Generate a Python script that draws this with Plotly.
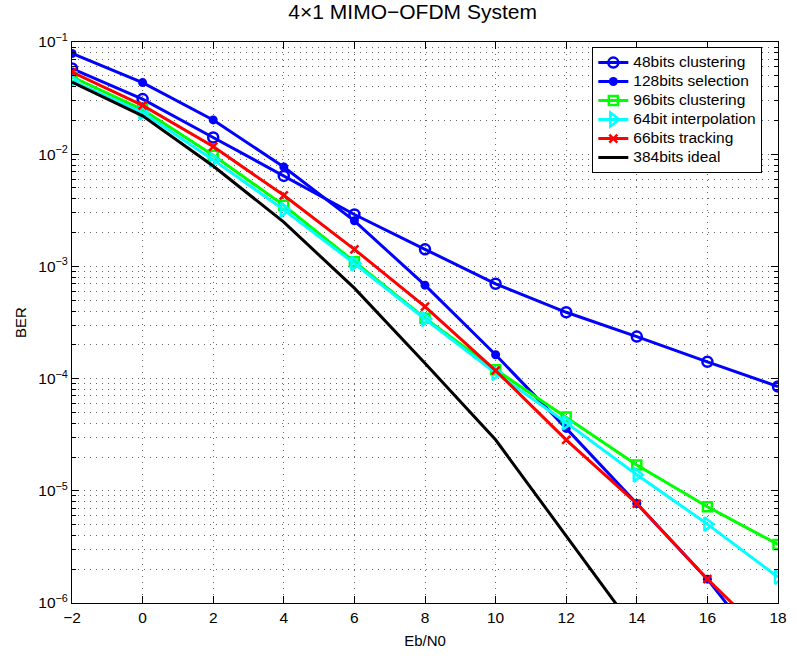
import plotly.graph_objects as go

# Eb/N0 sweep (dB)
ebn0 = [-2, 0, 2, 4, 6, 8, 10, 12, 14, 16, 18]
ebn0_ideal = [-2, 0, 2, 4, 6, 8, 10, 12, 14]

# BER curves
ber_48_clustering = [5.8e-2, 3.1e-2, 1.41e-2, 6.4e-3, 2.9e-3, 1.42e-3, 7.0e-4, 3.9e-4, 2.37e-4, 1.41e-4, 8.5e-5]
ber_128_selection = [7.9e-2, 4.35e-2, 2.02e-2, 7.7e-3, 2.55e-3, 6.8e-4, 1.63e-4, 3.6e-5, 7.7e-6, 1.63e-6, 2.6e-7]
ber_96_clustering = [4.9e-2, 2.5e-2, 9.8e-3, 3.5e-3, 1.1e-3, 3.45e-4, 1.2e-4, 4.55e-5, 1.7e-5, 7.2e-6, 3.33e-6]
ber_64_interp = [4.5e-2, 2.35e-2, 8.9e-3, 3.2e-3, 1.06e-3, 3.4e-4, 1.12e-4, 4.05e-5, 1.39e-5, 5.05e-6, 1.7e-6]
ber_66_tracking = [5.4e-2, 2.72e-2, 1.17e-2, 4.3e-3, 1.42e-3, 4.38e-4, 1.18e-4, 2.84e-5, 7.7e-6, 1.63e-6, 4.0e-7]
ber_384_ideal = [4.4e-2, 2.2e-2, 7.85e-3, 2.48e-3, 6.4e-4, 1.37e-4, 2.85e-5, 3.9e-6, 5.5e-7]

# Axis ticks
x_ticks = [-2, 0, 2, 4, 6, 8, 10, 12, 14, 16, 18]
x_tick_text = ["\u22122", "0", "2", "4", "6", "8", "10", "12", "14", "16", "18"]
decades = [-6, -5, -4, -3, -2, -1]

y_major = [10.0 ** d for d in decades]
y_major_text = ["10<sup>\u2212%d</sup>" % (-d) for d in decades]
y_minor = [m * 10.0 ** d for d in decades[:-1] for m in range(2, 10)]

FONT = "Liberation Sans, Arial, Helvetica, sans-serif"
LW = 3
GRID = dict(gridcolor="#666666", griddash="1px,5px", gridwidth=1)

series = [
    ("48bits clustering", ebn0, ber_48_clustering, "#0000FF",
     dict(symbol="circle-open", size=10, line=dict(width=2.5, color="#0000FF"))),
    ("128bits selection", ebn0, ber_128_selection, "#0000FF",
     dict(symbol="circle", size=9, color="#0000FF")),
    ("96bits clustering", ebn0, ber_96_clustering, "#00FF00",
     dict(symbol="square-open", size=9, line=dict(width=2.5, color="#00FF00"))),
    ("64bit interpolation", ebn0, ber_64_interp, "#00FFFF",
     dict(symbol="triangle-right-open", size=12, line=dict(width=2.5, color="#00FFFF"))),
    ("66bits tracking", ebn0, ber_66_tracking, "#FF0000",
     dict(symbol="x-thin-open", size=8, line=dict(width=2.5, color="#FF0000"))),
]


def legend_label(text):
    return '<span style="font-size:15.5px">%s</span>' % text


fig = go.Figure()
for name, xs, ys, color, marker in series:
    fig.add_trace(go.Scatter(
        x=xs, y=ys, name=legend_label(name), mode="lines+markers",
        line=dict(color=color, width=LW), marker=marker,
    ))
fig.add_trace(go.Scatter(
    x=ebn0_ideal, y=ber_384_ideal, name=legend_label("384bits ideal"),
    mode="lines", line=dict(color="#000000", width=LW),
))

fig.update_layout(
    width=797, height=659,
    margin=dict(l=72, r=10, t=42, b=56),
    paper_bgcolor="white", plot_bgcolor="white",
    font=dict(family=FONT, size=15, color="black"),
    title=dict(text="4\u00d71 MIMO\u2212OFDM System", x=0.4825, xref="paper",
               xanchor="center", y=0.983, yanchor="middle",
               font=dict(size=21, family=FONT)),
    legend=dict(x=0.737, y=0.991, xanchor="left", yanchor="top",
                bgcolor="white", bordercolor="black", borderwidth=1,
                font=dict(size=12, family=FONT), tracegroupgap=0),
    showlegend=True,
)

fig.update_xaxes(
    range=[-2, 18], tickvals=x_ticks, ticktext=x_tick_text,
    ticks="inside", ticklen=7, tickcolor="black",
    showline=True, linecolor="black", linewidth=1, mirror="ticks",
    showgrid=True, zeroline=False, **GRID,
    title=dict(text="Eb/N0", font=dict(size=15), standoff=10),
    tickfont=dict(size=15.5),
)
fig.update_yaxes(
    type="log", range=[-6, -1], tickvals=y_major, ticktext=y_major_text,
    ticks="inside", ticklen=7, tickcolor="black",
    minor=dict(tickvals=y_minor, ticks="inside", ticklen=4, tickcolor="black",
               showgrid=True, **GRID),
    showline=True, linecolor="black", linewidth=1, mirror="ticks",
    showgrid=True, zeroline=False, **GRID,
    title=dict(text="BER", font=dict(size=15), standoff=8),
    tickfont=dict(size=15.5),
)

fig.write_html("out.html")
